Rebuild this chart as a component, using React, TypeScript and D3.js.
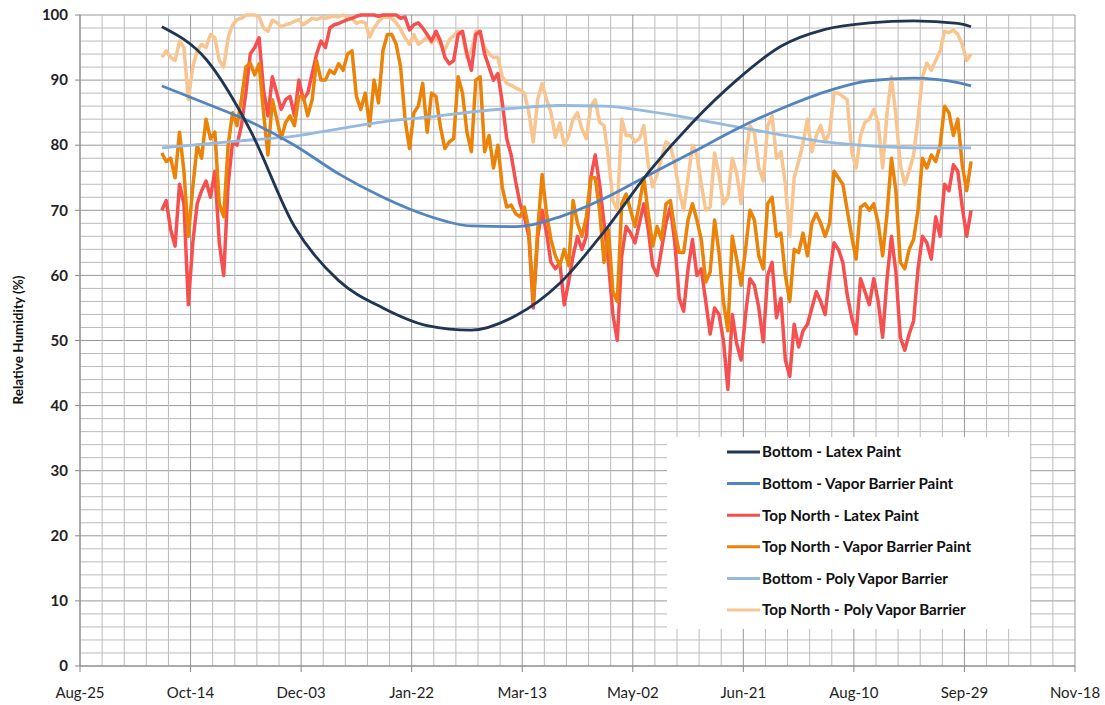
import { useMemo } from "react"
import * as d3 from "d3"

const W = 1105, H = 705
const ML = 80, MT = 15, MR = 30, MB = 39
const FONT = "Lato, 'Open Sans', sans-serif"

// day 0 of the axis is Aug-25, ticks every 50 days
const START = new Date(2009, 7, 25)
const AXIS_DAYS = 450
const TICK_STEP = 50

// noisy series: one value every 2 days from day 37 (Oct-01)
const NOISY_START_DAY = 37
const NOISY_STEP = 2

const topNorthLatex = [
  70, 71.5, 67, 64.5, 74, 71, 55.5, 65, 71, 73,
  74.5, 72, 76, 65, 60, 74, 80.5, 80, 83, 88,
  94, 95, 96.5, 88.5, 84.5, 90.5, 88, 85.5, 87, 87.5,
  84.5, 90, 87, 88, 91, 94, 96, 95, 98, 98.5,
  98.7, 99, 99.3, 99.5, 99.8, 100, 100, 100, 100, 99.8,
  100, 100, 100, 100, 99.5, 99.7, 97.7, 98.5, 98.8, 98,
  97, 96, 97.5, 96, 93.5, 92.5, 93, 97, 97.5, 94,
  91.5, 97, 97.5, 94, 92, 90, 91, 86.5, 81, 78.5,
  74.5, 71, 69, 66, 55, 66, 70, 66.5, 62, 61,
  62, 55.5, 59, 63, 66, 64, 66, 75, 78.5, 74,
  68, 62, 54, 50, 63, 67.5, 66.5, 65, 68, 71,
  67, 61.5, 60, 64, 68, 70.5, 65, 56.5, 54.5, 61,
  65.5, 60, 61, 56, 51, 55, 54, 50, 42.5, 54,
  49.5, 47, 54, 59.5, 58.5, 55, 49.8, 60, 62, 53.5,
  56.5, 47, 44.5, 52.5, 49, 51.5, 52.5, 55, 57.5, 56,
  54, 60, 65, 64, 62, 57, 53.5, 51, 59.5, 57.5,
  55.5, 59.5, 56, 50.5, 59.5, 66, 60.5, 50.5, 48.5, 51,
  53, 61, 66, 65, 62.5, 69, 66, 74, 73, 77,
  76, 70.5, 66, 70,
]

const topNorthVBP = [
  78.8, 77.5, 78, 75, 82, 76, 66, 73.5, 80, 78,
  84, 81, 82, 71, 69, 80, 85, 83, 87, 92,
  92.6, 90.8, 92.5, 85, 78.5, 87, 84, 81, 83.5, 84.5,
  83, 87.5, 87.5, 84.5, 87, 93, 90, 90, 91.5, 91,
  92.5, 91.5, 94, 94.5, 87.5, 85.5, 88, 83, 90, 86.5,
  94.5, 97, 97, 95.5, 92, 84, 79.5, 85, 86, 89.5,
  82, 88, 87.5, 82.8, 79.5, 80.5, 81, 90.5, 88, 82,
  79, 90, 90.5, 79, 81.5, 76.5, 80, 73.5, 70.5, 70.8,
  69.5, 69, 70.5, 67, 56, 67, 75.5, 69.5, 65.5, 63,
  61.5, 64, 61.5, 71.5, 68, 66, 69, 75, 75, 70,
  62, 67, 57.5, 56, 71, 72.5, 70, 67.5, 71, 75,
  69.5, 64.5, 67.5, 65.5, 71, 71.5, 67, 63.5, 63.5, 68.5,
  71, 68.5, 65.5, 59, 60.5, 68.5, 63.5, 56, 51.5, 66,
  62.5, 58.5, 64, 70, 68.5, 63, 61, 71, 72, 66,
  66.5, 60, 56, 64, 63.5, 66.5, 63, 68, 69.5, 68,
  66, 68, 76, 75, 74, 70, 66, 62.5, 70.5, 71,
  70, 71, 68, 63, 69.5, 78, 73, 62, 61, 64,
  65.5, 70, 78, 76.5, 78.5, 77.5, 80, 86, 85, 81.5,
  84, 77, 73, 77.5,
]

const topNorthPoly = [
  93.5, 94.5, 93.5, 93, 96, 95, 87, 92, 94.5, 95.5,
  95, 97, 96.5, 93, 92, 96.5, 98.5, 99.3, 99.5, 100,
  100, 100, 99.7, 98, 97.5, 99.2, 98.8, 98.2, 98.5, 98.7,
  99, 99.3, 98.5, 99, 99.5, 99.3, 99.6, 99.5, 99.7, 99.8,
  99.7, 100, 99.6, 99.5, 98.7, 99, 98.8, 96.6, 98, 99,
  99.6, 99.7, 99.5, 98.8, 97.8, 96.5, 95.5, 97, 95.5, 96,
  96.6, 95.7, 96.5, 95.5, 94.6, 96.2, 96.8, 97.5, 97, 93.5,
  94.5, 97.5, 97, 95, 94, 93.5, 93.5, 90.5, 89.5, 89.2,
  88.8, 88.5, 88, 85, 80.5, 87, 89.5, 87, 85, 81.2,
  83.4, 80, 81.5, 84, 85, 82.5, 81, 86, 87, 83.5,
  83, 78, 71.5, 70, 84, 81.5, 81.5, 80.5, 81, 83,
  77, 73.6, 75.5, 78, 80.5, 80, 77, 73, 70, 75,
  80, 78.5, 74, 70, 70.5, 78.8, 75.5, 71, 72, 78,
  75.7, 71, 78, 83, 82, 76.5, 74.5, 83, 84.5, 78,
  79, 74, 66, 75, 77.5, 80.3, 84, 79, 81.5, 83,
  80.5, 82, 88, 88, 87.5, 87, 79, 76.5, 81.5, 83.5,
  84, 85.5, 83.4, 76.5, 85, 90.5, 84.5, 77, 74, 76,
  78.5, 84, 90.5, 92.6, 91.5, 93, 94.5, 97.5, 97.3, 97.7,
  97, 95.5, 93, 94,
]

// smooth series: sampled at these days after Aug-25
const smoothDays = [37, 57, 77, 97, 117, 137, 157, 177, 197, 217, 237, 257, 277, 297, 317, 337, 357, 377, 397, 403]
const bottomLatex = [98.2, 93.2, 82.3, 67.5, 59.2, 55, 52.3, 51.6, 53.8, 58.8, 66.7, 75.8, 83.5, 90, 95.2, 97.8, 98.8, 99.1, 98.7, 98.2]
const bottomVBP = [89.1, 86.4, 83.6, 80, 75.6, 72, 69.2, 67.6, 67.5, 69, 71.8, 75.4, 78.9, 82.5, 85.6, 88.2, 89.9, 90.3, 89.6, 89.1]
const bottomPoly = [79.6, 80.2, 80.8, 81.4, 82.5, 83.6, 84.3, 85.1, 85.7, 86.1, 86, 85.2, 84.1, 82.8, 81.6, 80.5, 79.9, 79.6, 79.6, 79.6]

const legendLabels = [
  "Bottom - Latex Paint",
  "Bottom - Vapor Barrier Paint",
  "Top North - Latex Paint",
  "Top North - Vapor Barrier Paint",
  "Bottom - Poly Vapor Barrier",
  "Top North - Poly Vapor Barrier",
]
const COLORS = ["#1f3552", "#5484bd", "#f64f4f", "#ea8308", "#95b9df", "#f8c591"]

export default function App() {
  const IW = W - ML - MR, IH = H - MT - MB
  const end = d3.timeDay.offset(START, AXIS_DAYS)
  const x = d3.scaleTime().domain([START, end]).range([ML, ML + IW])
  const y = d3.scaleLinear().domain([0, 100]).range([MT + IH, MT])
  const fmt = d3.timeFormat("%b-%d")

  const paths = useMemo(() => {
    const day = (d: number) => x(d3.timeDay.offset(START, d))
    const noisy = (vals: number[]) =>
      d3.line<number>()
        .x((_, i) => day(NOISY_START_DAY + i * NOISY_STEP))
        .y(v => y(v))(vals) ?? ""
    const smooth = (vals: number[]) =>
      d3.line<number>()
        .x((_, i) => day(smoothDays[i]))
        .y(v => y(v))
        .curve(d3.curveMonotoneX)(vals) ?? ""
    return {
      bl: smooth(bottomLatex),
      bv: smooth(bottomVBP),
      bp: smooth(bottomPoly),
      tl: noisy(topNorthLatex),
      tv: noisy(topNorthVBP),
      tp: noisy(topNorthPoly),
    }
  }, [])

  const minorX = d3.range(0, AXIS_DAYS + 1, 10).map(d => d3.timeDay.offset(START, d))
  const majorX = d3.range(0, AXIS_DAYS + 1, TICK_STEP).map(d => d3.timeDay.offset(START, d))
  const minorY = d3.range(0, 101, 2)
  const majorY = d3.range(0, 101, 10)

  const LX = 667, LY = 437, LW = 363, LH = 192

  return (
    <svg width={W} height={H} style={{ position: "absolute", left: 0, top: 0, background: "#fff" }}
      fontFamily={FONT}>
      {/* grid */}
      {minorY.map(t => (
        <line key={"hy" + t} x1={ML} x2={ML + IW} y1={y(t)} y2={y(t)}
          stroke={t % 10 === 0 ? "#999" : "#bcbcbc"} strokeWidth={1} />
      ))}
      {minorX.map((t, i) => (
        <line key={"vx" + i} x1={x(t)} x2={x(t)} y1={MT} y2={MT + IH}
          stroke={i % 5 === 0 ? "#999" : "#bcbcbc"} strokeWidth={1} />
      ))}

      {/* axes */}
      <line x1={ML} x2={ML} y1={MT} y2={MT + IH} stroke="#888" />
      <line x1={ML} x2={ML + IW} y1={MT + IH} y2={MT + IH} stroke="#888" />
      {majorY.map(t => (
        <g key={"yt" + t}>
          <line x1={ML - 5} x2={ML} y1={y(t)} y2={y(t)} stroke="#888" />
          <text x={ML - 12} y={y(t)} dy="0.35em" textAnchor="end" fontSize={15}
            fontWeight="bold" fill="#222">{t}</text>
        </g>
      ))}
      {majorX.map((t, i) => (
        <g key={"xt" + i}>
          <line x1={x(t)} x2={x(t)} y1={MT + IH} y2={MT + IH + 6} stroke="#888" />
          <text x={x(t)} y={698} textAnchor="middle" fontSize={15} fill="#222">{fmt(t)}</text>
        </g>
      ))}
      <text transform={`translate(23,340) rotate(-90)`} textAnchor="middle"
        fontSize={13.5} fontWeight="bold" fill="#111">Relative Humidity (%)</text>

      {/* series */}
      <path d={paths.tp} fill="none" stroke={COLORS[5]} strokeWidth={3.5} strokeLinejoin="round" />
      <path d={paths.tl} fill="none" stroke={COLORS[2]} strokeWidth={3.5} strokeLinejoin="round" />
      <path d={paths.tv} fill="none" stroke={COLORS[3]} strokeWidth={3.5} strokeLinejoin="round" />
      <path d={paths.bp} fill="none" stroke={COLORS[4]} strokeWidth={2.8} />
      <path d={paths.bv} fill="none" stroke={COLORS[1]} strokeWidth={2.8} />
      <path d={paths.bl} fill="none" stroke={COLORS[0]} strokeWidth={2.8} />

      {/* legend */}
      <rect x={LX} y={LY} width={LW} height={LH} fill="#fff" />
      {legendLabels.map((lab, i) => {
        const ry = LY + 15 + i * 31.6
        return (
          <g key={lab}>
            <line x1={LX + 60} x2={LX + 93} y1={ry} y2={ry} stroke={COLORS[i]} strokeWidth={3} />
            <text x={LX + 95} y={ry} dy="0.35em" fontSize={15.2} fontWeight="bold" fill="#111">{lab}</text>
          </g>
        )
      })}
    </svg>
  )
}
